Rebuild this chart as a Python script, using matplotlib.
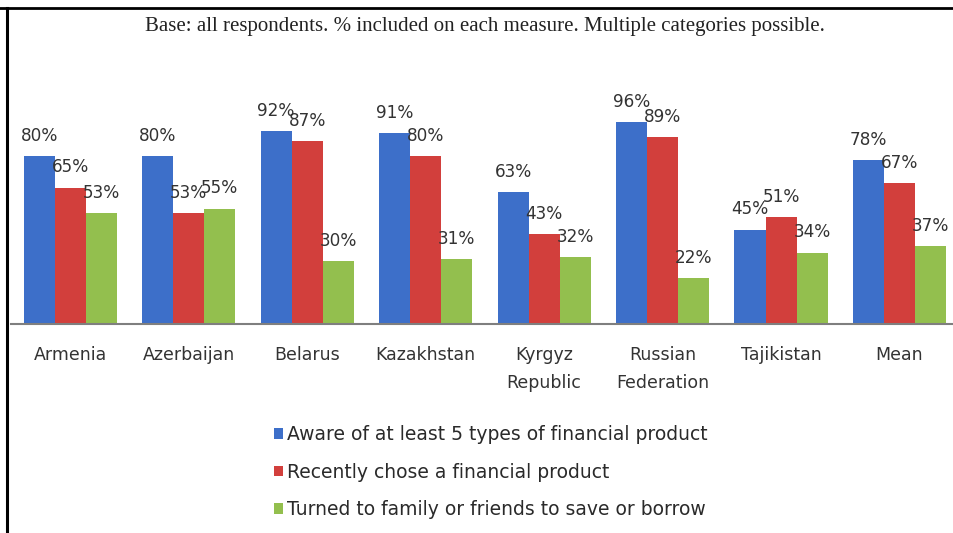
import matplotlib
matplotlib.use("Agg")
import matplotlib.pyplot as plt
from matplotlib.lines import Line2D
from matplotlib.patches import Patch
import numpy as np

countries = ["Armenia", "Azerbaijan", "Belarus", "Kazakhstan", "Kyrgyz\nRepublic",
             "Russian\nFederation", "Tajikistan", "Mean"]
aware = [80, 80, 92, 91, 63, 96, 45, 78]
chose = [65, 53, 87, 80, 43, 89, 51, 67]
family = [53, 55, 30, 31, 32, 22, 34, 37]

series_names = ["Aware of at least 5 types of financial product",
                "Recently chose a financial product",
                "Turned to family or friends to save or borrow"]
colors = ["#3d6fc9", "#d23f3c", "#93bf4e"]
title = "Base: all respondents. % included on each measure. Multiple categories possible."

fig = plt.figure(figsize=(9.54, 5.33), dpi=100)
ax = fig.add_axes([11/954, 209/533, 943/954, 210/533])

x = np.arange(len(countries))
w = 0.262
txt_col = "#333333"
for i, (vals, col) in enumerate(zip([aware, chose, family], colors)):
    xs = x + (i - 1) * w
    ax.bar(xs, vals, width=w, color=col, edgecolor="none")
    for xi, v in zip(xs, vals):
        ax.annotate(f"{v}%", (xi, v), xytext=(0, 14.5), textcoords="offset points",
                    ha="center", va="center", fontsize=12.2, color=txt_col,
                    annotation_clip=False)

ax.set_xlim(-0.5, 7.46)
ax.set_ylim(0, 100)
ax.set_yticks([])
ax.set_xticks(x)
ax.set_xticklabels(countries, fontsize=12.5, color=txt_col)
for t in ax.get_xticklabels():
    t.set_linespacing(1.7)
ax.tick_params(axis="x", length=0, pad=16)
for s in ["top", "right", "left"]:
    ax.spines[s].set_visible(False)
ax.spines["bottom"].set_color("#7f7f7f")
ax.spines["bottom"].set_linewidth(1.5)
ax.patch.set_alpha(0)

fig.text(485/954, 1 - 26/533, title, ha="center", va="center",
         family="Liberation Serif", fontsize=15, color="#222222")

handles = [Patch(facecolor=c, edgecolor="none") for c in colors]
fig.legend(handles, series_names, loc="upper left", bbox_to_anchor=(257/954, 1 - 408/533),
           frameon=False, fontsize=13.5, handlelength=0.5, handleheight=0.5,
           handletextpad=0.2, labelspacing=1.0, labelcolor="#2a2a2a")

# frame lines of the original scan
fig.add_artist(Line2D([0, 1], [1 - 8/533, 1 - 8/533], transform=fig.transFigure,
                      color="black", lw=2))
fig.add_artist(Line2D([7/954, 7/954], [0, 1 - 8/533], transform=fig.transFigure,
                      color="black", lw=2.2))

fig.savefig("out.png", dpi=100)
